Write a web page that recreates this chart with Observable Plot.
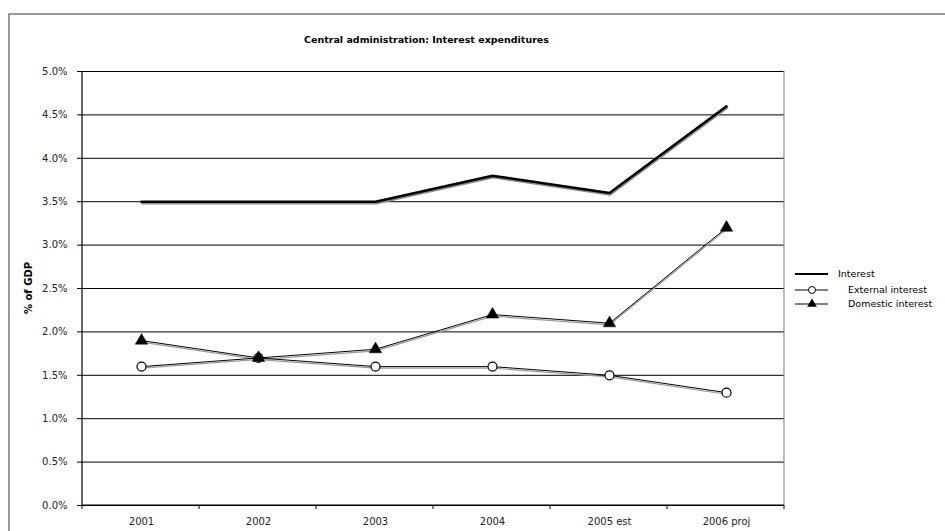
<!DOCTYPE html>
<html>
<head>
<meta charset="utf-8">
<script src="https://cdn.jsdelivr.net/npm/d3@7"></script>
<script src="https://cdn.jsdelivr.net/npm/@observablehq/plot@0.6"></script>
<style>
  html, body { margin: 0; padding: 0; background: #fff; }
  #chart svg { display: block; }
</style>
</head>
<body>
<div id="chart"></div>
<script>
const title = "Central administration: Interest expenditures";
const yLabel = "% of GDP";
const categories = ["2001", "2002", "2003", "2004", "2005 est", "2006 proj"];
const interest = [3.5, 3.5, 3.5, 3.8, 3.6, 4.6];
const externalInterest = [1.6, 1.7, 1.6, 1.6, 1.5, 1.3];
const domesticInterest = [1.9, 1.7, 1.8, 2.2, 2.1, 3.2];
const yTicks = [0, 0.5, 1, 1.5, 2, 2.5, 3, 3.5, 4, 4.5, 5];
const seriesNames = ["Interest", "External interest", "Domestic interest"];

const rows = [];
categories.forEach((c, i) => {
  rows.push({cat: c, value: interest[i], series: seriesNames[0]});
  rows.push({cat: c, value: externalInterest[i], series: seriesNames[1]});
  rows.push({cat: c, value: domesticInterest[i], series: seriesNames[2]});
});
const intRows = rows.filter(d => d.series === seriesNames[0]);
const extRows = rows.filter(d => d.series === seriesNames[1]);
const domRows = rows.filter(d => d.series === seriesNames[2]);

const W = 945, H = 531;
const font = "'DejaVu Sans', Verdana, sans-serif";

const plot = Plot.plot({
  width: W,
  height: H,
  marginLeft: 82,
  marginRight: 161,
  marginTop: 71,
  marginBottom: 26,
  style: {fontFamily: font, fontSize: "10px", background: "#fff", color: "#222", overflow: "visible"},
  x: {type: "point", domain: categories, padding: 0.5},
  y: {domain: [0, 5]},
  marks: [
    Plot.ruleY(yTicks, {stroke: "#000", strokeWidth: 1}),
    Plot.axisY({ticks: yTicks, tickFormat: d => d.toFixed(1) + "%", tickSize: 5, tickPadding: 10, label: null, stroke: "#000", fill: "#222"}),
    Plot.axisX({tickSize: 0, tickPadding: 12, label: null, fill: "#222"}),
    // shadows
    Plot.line(intRows, {x: "cat", y: "value", stroke: "#8c8c8c", strokeWidth: 2.5, dx: 0.5, dy: 1.5}),
    Plot.line(extRows, {x: "cat", y: "value", stroke: "#9a9a9a", strokeWidth: 1.2, dy: 1.6}),
    Plot.line(domRows, {x: "cat", y: "value", stroke: "#9a9a9a", strokeWidth: 1.2, dy: 1.6}),
    // lines
    Plot.line(intRows, {x: "cat", y: "value", stroke: "#000", strokeWidth: 2.5}),
    Plot.line(extRows, {x: "cat", y: "value", stroke: "#000", strokeWidth: 1}),
    Plot.line(domRows, {x: "cat", y: "value", stroke: "#000", strokeWidth: 1}),
    // markers
    Plot.dot(extRows, {x: "cat", y: "value", r: 4.5, fill: "#fff", stroke: "#000", strokeWidth: 1.2}),
    Plot.dot(domRows, {x: "cat", y: "value", symbol: "triangle", r: 4.6, fill: "#000", stroke: "#000", strokeWidth: 0.5})
  ]
});

const svg = d3.select(plot);
const xs = plot.scale("x");
const ys = plot.scale("y");
const x0 = xs.range[0], x1 = xs.range[1];
const yTop = ys.range[1], yBot = ys.range[0];
const step = (x1 - x0) / categories.length;

// axes frame
svg.append("line").attr("x1", x0).attr("x2", x0).attr("y1", yTop).attr("y2", yBot).attr("stroke", "#000").attr("stroke-width", 1.2);
svg.append("line").attr("x1", x1).attr("x2", x1).attr("y1", yTop).attr("y2", yBot).attr("stroke", "#888").attr("stroke-width", 1.2);
svg.append("line").attr("x1", x0).attr("x2", x1).attr("y1", yBot).attr("y2", yBot).attr("stroke", "#000").attr("stroke-width", 1.2);
for (let i = 0; i <= categories.length; i++) {
  const xx = x0 + i * step;
  svg.append("line").attr("x1", xx).attr("x2", xx).attr("y1", yBot).attr("y2", yBot + 4).attr("stroke", "#000");
}

// outer chart border (top and left visible)
svg.append("path").attr("d", `M9,${H} L9,14 L${W},14`).attr("fill", "none").attr("stroke", "#777").attr("stroke-width", 1.5);

// title
svg.append("text").attr("x", 426.5).attr("y", 40).attr("text-anchor", "middle").attr("dominant-baseline", "middle")
  .attr("font-family", font).attr("font-size", "9.5px").attr("font-weight", "bold").attr("fill", "#000").text(title);

// y label
svg.append("text").attr("transform", `translate(29,${(yTop + yBot) / 2}) rotate(-90)`).attr("text-anchor", "middle").attr("dominant-baseline", "middle")
  .attr("font-family", font).attr("font-size", "10px").attr("font-weight", "bold").attr("fill", "#000").text(yLabel);

// legend
const leg = svg.append("g");
const legY = [274, 290, 304];
const legTextX = [838, 848, 848];
seriesNames.forEach((name, i) => {
  const y = legY[i];
  leg.append("line").attr("x1", 795).attr("x2", 828).attr("y1", y).attr("y2", y).attr("stroke", "#000").attr("stroke-width", i === 0 ? 2 : 1);
  if (i === 1) leg.append("circle").attr("cx", 812).attr("cy", y).attr("r", 3.5).attr("fill", "#fff").attr("stroke", "#000");
  if (i === 2) leg.append("path").attr("d", d3.symbol(d3.symbolTriangle, 40)()).attr("transform", `translate(812,${y})`).attr("fill", "#000");
  leg.append("text").attr("x", legTextX[i]).attr("y", y).attr("text-anchor", "start").attr("dominant-baseline", "middle")
    .attr("font-family", font).attr("font-size", "9.5px").attr("fill", "#000").text(name);
});

document.getElementById("chart").appendChild(plot);
</script>
</body>
</html>
